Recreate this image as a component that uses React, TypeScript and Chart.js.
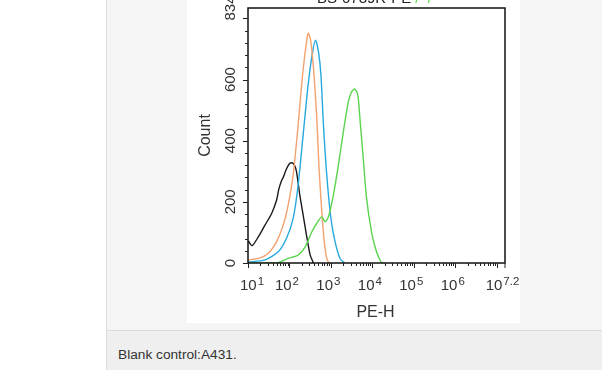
import React, { useEffect, useRef } from "react";
import { Chart, registerables } from "chart.js";

Chart.register(...registerables);

// ---- data (PE-H value, Count) ----
const blackX = [10.2, 12.6, 17.8, 25.7, 37.2, 49, 55, 63, 70.8, 85.1, 102, 118, 132, 148, 178, 214, 257, 316, 380];
const blackY = [72, 57, 86, 124, 162, 206, 240, 266, 280, 308, 326, 327, 320, 299, 222, 157, 92, 26, 0];

const orangeX = [10, 17.8, 30.9, 49, 70.8, 93.3, 123, 162, 200, 240, 282, 324, 380, 457, 513, 603, 692, 794, 891];
const orangeY = [10, 15, 32, 70, 124, 190, 288, 451, 593, 691, 751, 729, 637, 473, 320, 168, 70, 15, 0];

const blueX = [10, 25.7, 53.7, 85.1, 123, 162, 214, 282, 363, 427, 501, 575, 661, 794, 1000, 1259, 1660, 2138];
const blueY = [3, 10, 37, 81, 146, 255, 419, 582, 691, 729, 691, 615, 451, 288, 146, 70, 15, 0];

const greenX = [10, 53.7, 93.3, 162, 240, 347, 457, 603, 724, 871, 1148, 1514, 1995, 2630, 3162, 3802, 4467, 5012, 6026, 7244, 9550, 12589, 16596, 19953];
const greenY = [0, 2, 15, 26, 53, 102, 130, 151, 135, 151, 222, 320, 429, 527, 560, 569, 549, 473, 342, 212, 102, 37, 2, 0];

const xMin = 10;
const xMax = Math.pow(10, 7.2);
const yMin = 0;
const yMax = 834;

const xTickValues = [10, 100, 1000, 10000, 100000, 1000000, Math.pow(10, 7.2)];
const xTickBases = ["10", "10", "10", "10", "10", "10", "10"];
const xTickExps = ["1", "2", "3", "4", "5", "6", "7.2"];
const yTickValues = [0, 200, 400, 600, 834];
const yTickLabels = ["0", "200", "400", "600", "834"];
const yMajorStep = 200;
const yMinorStep = 40;

const xTitle = "PE-H";
const yTitle = "Count";
const topTitleDark = "BS-0739R-PE";
const topTitleGreen = "/  /";
const caption = "Blank control:A431.";

const FONT = '"Liberation Sans", Arial, sans-serif';

function pts(xs: number[], ys: number[]) {
  return xs.map((x, i) => ({ x, y: ys[i] }));
}

const axesPlugin = {
  id: "flowAxes",
  afterDraw(chart: any) {
    const { ctx, chartArea: a, scales } = chart;
    const xs = scales.x;
    const ys = scales.y;
    ctx.save();
    // frame
    ctx.strokeStyle = "#111";
    ctx.lineWidth = 1.5;
    ctx.strokeRect(a.left, a.top, a.right - a.left, a.bottom - a.top);

    // x ticks (log)
    ctx.lineWidth = 1;
    ctx.strokeStyle = "#222";
    for (let d = 1; d <= 7; d++) {
      for (let m = 1; m <= 9; m++) {
        const v = m * Math.pow(10, d);
        if (v > xMax) break;
        const px = Math.round(xs.getPixelForValue(v)) + 0.5;
        const len = m === 1 ? 5 : 3;
        ctx.beginPath();
        ctx.moveTo(px, a.bottom);
        ctx.lineTo(px, a.bottom + len);
        ctx.stroke();
      }
    }
    {
      const px = xs.getPixelForValue(xMax);
      ctx.beginPath();
      ctx.moveTo(px, a.bottom);
      ctx.lineTo(px, a.bottom + 5);
      ctx.stroke();
    }
    // y ticks
    for (let v = yMin; v <= yMax; v += yMinorStep) {
      const py = Math.round(ys.getPixelForValue(v)) + 0.5;
      const len = v % yMajorStep === 0 ? 5 : 3;
      ctx.beginPath();
      ctx.moveTo(a.left - len, py);
      ctx.lineTo(a.left, py);
      ctx.stroke();
    }

    // x tick labels
    ctx.fillStyle = "#333";
    ctx.textBaseline = "alphabetic";
    ctx.textAlign = "left";
    xTickValues.forEach((v, i) => {
      ctx.font = `15px ${FONT}`;
      const wb = ctx.measureText(xTickBases[i]).width;
      ctx.font = `11.5px ${FONT}`;
      const we = ctx.measureText(xTickExps[i]).width;
      const total = wb + 1 + we;
      const cx = xs.getPixelForValue(v) + (i === 0 ? 4 : -2.5);
      const start = cx - total / 2;
      ctx.font = `15px ${FONT}`;
      ctx.fillText(xTickBases[i], start, 290);
      ctx.font = `11.5px ${FONT}`;
      ctx.fillText(xTickExps[i], start + wb + 1, 284.5);
    });

    // y tick labels (rotated)
    ctx.font = `15px ${FONT}`;
    ctx.textAlign = "center";
    yTickValues.forEach((v, i) => {
      const py = ys.getPixelForValue(v);
      ctx.save();
      ctx.translate(48, py);
      ctx.rotate(-Math.PI / 2);
      ctx.fillText(yTickLabels[i], 0, 0);
      ctx.restore();
    });

    // axis titles
    ctx.font = `16px ${FONT}`;
    ctx.textAlign = "center";
    ctx.fillText(xTitle, 188.5, 316.5);
    ctx.save();
    ctx.translate(23, (a.top + a.bottom) / 2);
    ctx.rotate(-Math.PI / 2);
    ctx.fillText(yTitle, 0, 0);
    ctx.restore();

    // cut-off top title
    ctx.font = `15px ${FONT}`;
    ctx.textAlign = "left";
    ctx.fillStyle = "#222";
    ctx.fillText(topTitleDark, 130, 2.5);
    const wd = ctx.measureText(topTitleDark).width;
    ctx.fillStyle = "#66d455";
    ctx.fillText(topTitleGreen, 130 + wd + 4, 2.5);
    ctx.restore();
  },
};

export default function App() {
  const ref = useRef<HTMLCanvasElement>(null);
  useEffect(() => {
    const lineDs = (xs: number[], ys: number[], color: string) => ({
      data: pts(xs, ys),
      borderColor: color,
      borderWidth: 1.4,
      pointRadius: 0,
      tension: 0.25,
      fill: false,
    });
    const chart = new Chart(ref.current as HTMLCanvasElement, {
      type: "line",
      data: {
        datasets: [
          lineDs(greenX, greenY, "#5bd44f"),
          lineDs(orangeX, orangeY, "#f2a270"),
          lineDs(blueX, blueY, "#27a9dd"),
          lineDs(blackX, blackY, "#1a1a1a"),
        ],
      },
      options: {
        responsive: false,
        animation: false,
        devicePixelRatio: 1,
        layout: { padding: { left: 61, top: 8, right: 15, bottom: 60 } },
        plugins: {
          legend: { display: false },
          tooltip: { enabled: false },
          title: { display: false },
        },
        scales: {
          x: { type: "logarithmic", min: xMin, max: xMax, display: false },
          y: { type: "linear", min: yMin, max: yMax, display: false },
        },
      } as any,
      plugins: [axesPlugin],
    });
    return () => chart.destroy();
  }, []);

  return (
    <div style={{ position: "fixed", left: 0, top: 0, width: 602, height: 370, background: "#fff", overflow: "hidden" }}>
      <div style={{ position: "absolute", left: 106, top: 0, width: 1, height: 370, background: "#dcdcdc" }} />
      <div style={{ position: "absolute", left: 107, top: 0, width: 495, height: 330, background: "#f4f5f4" }} />
      <div style={{ position: "absolute", left: 107, top: 330, width: 495, height: 1, background: "#dcdcdc" }} />
      <div style={{ position: "absolute", left: 107, top: 331, width: 495, height: 39, background: "#eeefee" }} />
      <div style={{ position: "absolute", left: 187, top: 0, width: 333, height: 323, background: "#fff" }}>
        <canvas ref={ref} width={333} height={323} style={{ display: "block", width: 333, height: 323 }} />
      </div>
      <div
        style={{
          position: "absolute",
          left: 118,
          top: 346,
          font: `13.7px ${FONT}`,
          lineHeight: "18px",
          color: "#333",
          whiteSpace: "nowrap",
        }}
      >
        {caption}
      </div>
    </div>
  );
}
